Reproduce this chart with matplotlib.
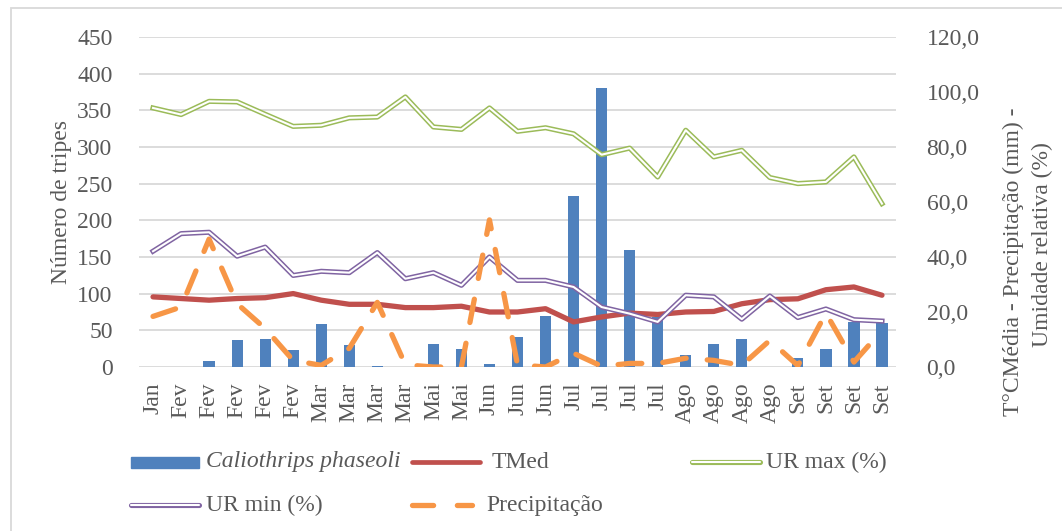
import matplotlib
matplotlib.use("Agg")
import matplotlib.pyplot as plt
import numpy as np
from matplotlib.lines import Line2D
from matplotlib.patches import Rectangle

# ── Data ──
categorias = ["Jan", "Fev", "Fev", "Fev", "Fev", "Fev", "Mar", "Mar", "Mar", "Mar",
              "Mai", "Mai", "Jun", "Jun", "Jun", "Jul", "Jul", "Jul", "Jul",
              "Ago", "Ago", "Ago", "Ago", "Set", "Set", "Set", "Set"]
tripes = [0, 0, 8, 37, 38, 23, 59, 30, 1, 0, 32, 24, 4, 41, 69, 233, 381, 160, 68,
          17, 31, 38, 0, 12, 24, 61, 60]
tmed = [25.5, 24.9, 24.3, 24.9, 25.2, 26.7, 24.3, 22.8, 22.8, 21.6, 21.6, 22.1, 20.0,
        20.0, 21.2, 16.4, 18.2, 19.6, 19.1, 20.0, 20.2, 23.0, 24.5, 24.8, 28.1, 29.1, 26.1]
ur_max = [94.2, 91.8, 96.6, 96.4, 91.9, 87.5, 87.9, 90.6, 90.9, 98.2, 87.3, 86.4, 94.2,
          85.7, 87.0, 84.8, 77.2, 79.6, 69.1, 86.1, 76.4, 78.8, 68.9, 66.7, 67.3, 76.4, 59.4]
ur_min = [42.1, 48.5, 49.0, 40.3, 43.6, 33.3, 34.8, 34.3, 41.6, 32.1, 34.3, 29.7, 40.0,
          31.5, 31.5, 29.1, 21.8, 19.4, 16.4, 26.1, 25.5, 17.4, 25.8, 18.0, 21.1, 17.2, 16.7]
precip = [18.4, 21.8, 46.5, 23.0, 14.0, 2.4, 0.6, 6.8, 23.5, 0.8, 0.0, 0.0, 53.5, 0.8,
          0.0, 5.0, 0.3, 1.3, 1.3, 3.2, 2.4, 0.6, 9.7, 0.5, 19.6, 1.8, 13.3]

W, H = 1062, 531
TXT = "#595959"
FS = 17
C_BAR = "#4F81BD"
C_TMED = "#C0504D"
C_URMAX = "#9BBB59"
C_URMIN = "#8064A2"
C_PREC = "#F79646"

plt.rcParams["font.family"] = ["Liberation Serif", "DejaVu Serif"]


def fx(px):
    return px / W


def fy(py):
    return 1 - py / H


fig = plt.figure(figsize=(W / 100, H / 100), dpi=100)
ax = fig.add_axes([fx(139), fy(367), fx(896 - 139), (367 - 37) / H])

x = np.arange(len(categorias))
ax.bar(x, tripes, width=0.4, color=C_BAR, zorder=2)
ax.set_xlim(-0.5, len(categorias) - 0.5)
ax.set_ylim(0, 450)
ax.set_yticks(range(0, 451, 50))
ax.yaxis.grid(True, color="#D9D9D9", lw=1.3)
ax.set_axisbelow(True)
for s in ax.spines.values():
    s.set_visible(False)
ax.set_xticks(x, categorias, rotation=90)
ax.tick_params(length=0, labelsize=FS, colors=TXT)
ax.tick_params(axis="y", pad=19)
ax.tick_params(axis="x", pad=11)

# ── Secondary axis: weather series ──
ax2 = ax.twinx()
ax2.set_ylim(0, 120)
yt = np.arange(0, 121, 20)
ax2.set_yticks(yt, [f"{v:.1f}".replace(".", ",") for v in yt])
for s in ax2.spines.values():
    s.set_visible(False)
ax2.tick_params(length=0, labelsize=FS, colors=TXT, pad=22)

ax2.plot(x, tmed, color=C_TMED, lw=3.8, solid_capstyle="round")
ax2.plot(x, ur_max, color=C_URMAX, lw=3.7)
ax2.plot(x, ur_max, color="white", lw=1.5)
ax2.plot(x, ur_min, color=C_URMIN, lw=3.7)
ax2.plot(x, ur_min, color="white", lw=1.5)
ax2.plot(x, precip, color=C_PREC, lw=3.8, ls=(0, (4.5, 4)), dash_capstyle="round")

# ── Axis titles ──
fig.text(fx(62), fy(202), "Número de tripes", rotation=90, ha="center", va="center",
         fontsize=FS, color=TXT)
fig.text(fx(1013), fy(262), "T°CMédia - Precipitação (mm) -", rotation=90,
         ha="center", va="center", fontsize=FS, color=TXT)
fig.text(fx(1042), fy(245), "Umidade relativa (%)", rotation=90,
         ha="center", va="center", fontsize=FS, color=TXT)


# ── Legend (Excel-like free layout) ──
def leg_line(x0, x1, y, **kw):
    fig.add_artist(Line2D([fx(x0), fx(x1)], [fy(y), fy(y)], transform=fig.transFigure, **kw))


def leg_text(x0, y, s, **kw):
    fig.text(fx(x0), fy(y), s, ha="left", va="center", fontsize=FS, color=TXT, **kw)


r1, r2 = 462, 505
fig.add_artist(Rectangle((fx(131), fy(r1 + 5.5)), fx(68), 11 / H, color=C_BAR,
                         transform=fig.transFigure))
leg_text(206, r1, "Caliothrips phaseoli", style="italic")
leg_line(412, 480, r1, color=C_TMED, lw=3.4, solid_capstyle="round")
leg_text(492, r1, "TMed")
leg_line(692, 760, r1, color=C_URMAX, lw=3.7, solid_capstyle="round")
leg_line(692, 760, r1, color="white", lw=1.5, solid_capstyle="round")
leg_text(766, r1, "UR max (%)")
leg_line(131, 199, r2, color=C_URMIN, lw=3.7, solid_capstyle="round")
leg_line(131, 199, r2, color="white", lw=1.5, solid_capstyle="round")
leg_text(206, r2, "UR min (%)")
leg_line(412, 472, r2, color=C_PREC, lw=3.8, ls=(0, (4, 4.5)), dash_capstyle="round")
leg_text(486, r2, "Precipitação")

# chart frame (only top/left edges are inside the picture)
fig.add_artist(Rectangle((fx(11), -0.2), 1.2, fy(8) + 0.2, fill=False,
                         edgecolor="#D9D9D9", lw=1.3, transform=fig.transFigure))

fig.savefig("out.png", dpi=100)
